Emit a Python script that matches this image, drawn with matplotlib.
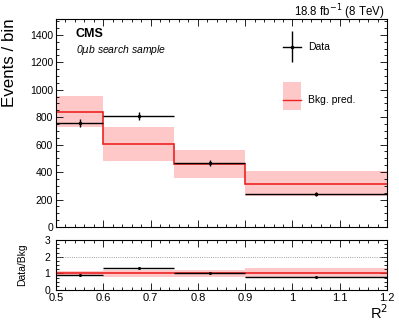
import numpy as np
import matplotlib.pyplot as plt
from matplotlib.ticker import MultipleLocator
from matplotlib.patches import Rectangle

plt.rcParams['font.family'] = ['Liberation Sans', 'DejaVu Sans']

# binning in R^2
edges = [0.5, 0.6, 0.75, 0.9, 1.2]
data = [758, 806, 467, 241]
bkg = [838, 608, 460, 316]
bkg_lo = [727, 484, 355, 224]
bkg_hi = [955, 727, 560, 408]

edges = np.array(edges)
data = np.array(data, dtype=float)
bkg = np.array(bkg, dtype=float)
bkg_lo = np.array(bkg_lo, dtype=float)
bkg_hi = np.array(bkg_hi, dtype=float)
centers = 0.5 * (edges[1:] + edges[:-1])
halfw = 0.5 * (edges[1:] - edges[:-1])
derr = np.sqrt(data)

band_col = '#ffc8c8'
red = '#ee2222'
W, H = 399, 321
fig = plt.figure(figsize=(W / 100, H / 100), dpi=100)
ax = fig.add_axes([56 / W, (H - 227) / H, 331 / W, 208 / H])
rax = fig.add_axes([56 / W, (H - 290) / H, 331 / W, 50 / H])

def root_style(a):
    a.tick_params(which='both', direction='in', top=True, right=True, labelsize=7.5, pad=2)
    a.tick_params(which='major', length=5, width=0.6)
    a.tick_params(which='minor', length=2.5, width=0.6)
    for s in a.spines.values():
        s.set_linewidth(0.8)

# top panel
for i in range(len(bkg)):
    ax.add_patch(Rectangle((edges[i], bkg_lo[i]), edges[i + 1] - edges[i], bkg_hi[i] - bkg_lo[i],
                           facecolor=band_col, edgecolor='none', zorder=1))
ax.stairs(bkg, edges, baseline=None, color=red, lw=1.2, zorder=2)
ax.errorbar(centers, data, xerr=halfw, yerr=derr, fmt='o', ms=1.5, color='black',
            elinewidth=1.0, capsize=0, zorder=3)
ax.set_xlim(0.5, 1.2)
ax.set_ylim(0, 1515)
ax.xaxis.set_major_locator(MultipleLocator(0.1))
ax.xaxis.set_minor_locator(MultipleLocator(0.02))
ax.yaxis.set_major_locator(MultipleLocator(200))
ax.yaxis.set_minor_locator(MultipleLocator(50))
ax.set_xticklabels([])
root_style(ax)
ax.set_ylabel('Events / bin', fontsize=12.2)
ax.yaxis.set_label_coords(-0.118, 0.79)

ax.text(0.06, 0.955, 'CMS', transform=ax.transAxes, fontsize=9, fontweight='bold', va='top')
ax.text(0.06, 0.885, r'0$\mu$b search sample', transform=ax.transAxes, fontsize=7.5,
        style='italic', va='top')
fig.text(384 / W, 1 - 12 / H, r'18.8 fb$^{-1}$ (8 TeV)', fontsize=8.3, ha='right', va='center')

# legend
ax.errorbar([0.999], [1313], yerr=[113], fmt='o', ms=1.5, color='black',
            elinewidth=1.0, capsize=0)
ax.plot([0.98, 1.018], [1313, 1313], color='black', lw=1.0)
ax.text(1.033, 1313, 'Data', fontsize=7.5, va='center')
ax.add_patch(Rectangle((0.98, 853), 0.038, 205, facecolor=band_col, edgecolor='none'))
ax.plot([0.98, 1.018], [926, 926], color=red, lw=1.0)
ax.text(1.033, 926, 'Bkg. pred.', fontsize=7.5, va='center')

# ratio panel
ratio = data / bkg
rerr = derr / bkg
rel = 0.5 * (bkg_hi - bkg_lo) / bkg
for i in range(len(bkg)):
    rax.add_patch(Rectangle((edges[i], 1 - rel[i]), edges[i + 1] - edges[i], 2 * rel[i],
                            facecolor=band_col, edgecolor='none', zorder=1))
rax.axhline(1, color=red, lw=1.2, zorder=2)
rax.axhline(2, color='gray', lw=0.6, ls=':', zorder=2)
rax.errorbar(centers, ratio, xerr=halfw, yerr=rerr, fmt='o', ms=1.2, color='black',
             elinewidth=1.0, capsize=0, zorder=3)
rax.set_xlim(0.5, 1.2)
rax.set_ylim(0, 3)
rax.xaxis.set_minor_locator(MultipleLocator(0.02))
rax.yaxis.set_major_locator(MultipleLocator(1))
rax.yaxis.set_minor_locator(MultipleLocator(0.25))
rax.set_xticks(np.arange(0.5, 1.21, 0.1))
rax.set_xticklabels(['0.5', '0.6', '0.7', '0.8', '0.9', '1', '1.1', '1.2'])
root_style(rax)
rax.tick_params(axis='x', labelsize=8, pad=2.5)
rax.tick_params(axis='y', pad=4)
rax.set_ylabel('Data/Bkg', fontsize=7.5)
rax.yaxis.set_label_coords(-0.088, 0.5)
rax.set_xlabel(r'R$^2$', fontsize=10.5, labelpad=0)
rax.xaxis.set_label_coords(0.975, -0.26)

fig.savefig('out.png', dpi=100)
